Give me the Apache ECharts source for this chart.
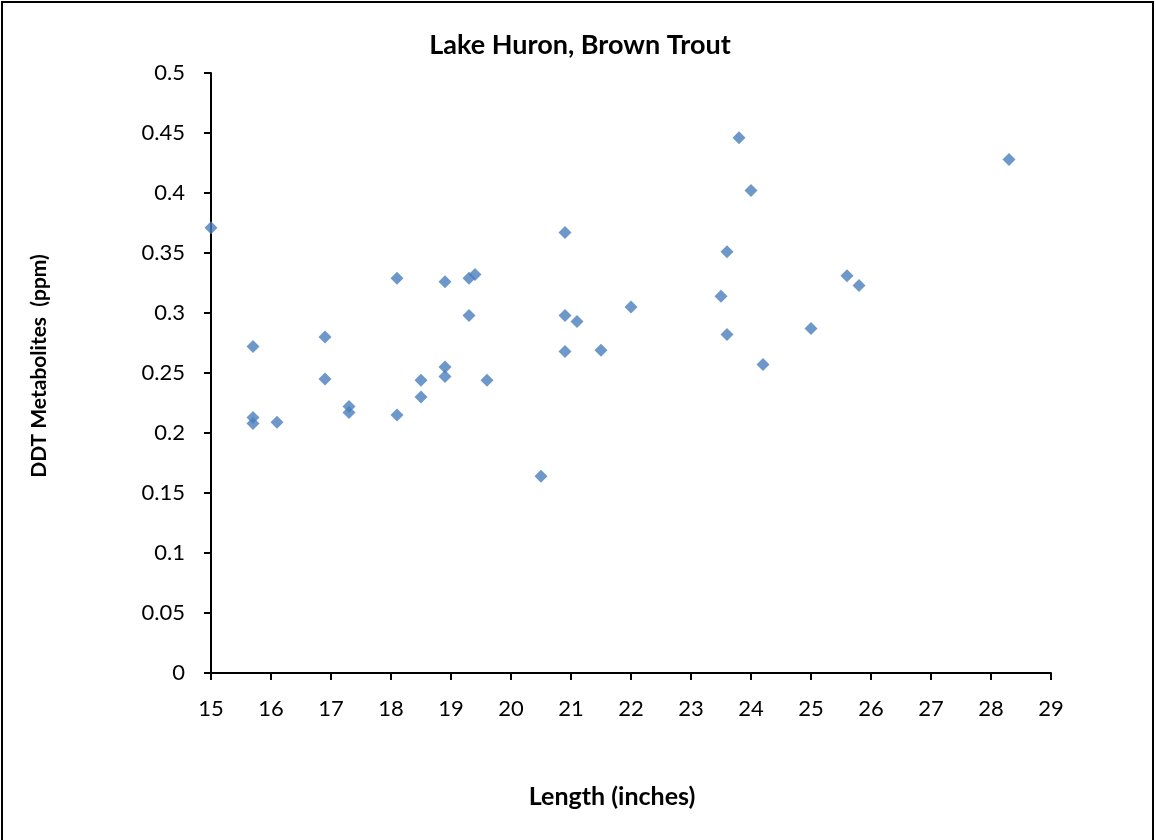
<!DOCTYPE html>
<html>
<head>
<meta charset="utf-8">
<script src="https://cdn.jsdelivr.net/npm/echarts@6/dist/echarts.min.js"></script>
<style>
  html, body { margin: 0; padding: 0; background: #fff; }
  #main { width: 1156px; height: 840px; }
</style>
</head>
<body>
<div id="main"></div>
<script>
// length of fish (inches) and DDT metabolites (ppm)
var lengths = [15.0, 15.7, 15.7, 15.7, 16.1, 16.9, 16.9, 17.3, 17.3, 18.1, 18.1, 18.5, 18.5,
  18.9, 18.9, 18.9, 19.3, 19.4, 19.3, 19.6, 20.5, 20.9, 20.9, 20.9, 21.1, 21.5, 22.0,
  23.5, 23.6, 23.6, 23.8, 24.0, 24.2, 25.0, 25.6, 25.8, 28.3]
var ddt = [0.371, 0.272, 0.213, 0.208, 0.209, 0.280, 0.245, 0.222, 0.217, 0.329, 0.215, 0.244, 0.230,
  0.326, 0.255, 0.247, 0.329, 0.332, 0.298, 0.244, 0.164, 0.367, 0.298, 0.268, 0.293, 0.269, 0.305,
  0.314, 0.351, 0.282, 0.446, 0.402, 0.257, 0.287, 0.331, 0.323, 0.428]

var titleText = 'Lake Huron, Brown Trout'
var xName = 'Length (inches)'
var yName = 'DDT Metabolites  (ppm)'

var points = lengths.map(function (x, i) { return [x, ddt[i]] })

var font = 'Lato, "Open Sans", sans-serif'
var chart = echarts.init(document.getElementById('main'))
chart.setOption({
  backgroundColor: '#fff',
  animation: false,
  grid: { left: 211, right: 105, top: 73, bottom: 167 },
  xAxis: {
    type: 'value',
    min: 15, max: 29, interval: 1,
    axisLine: { lineStyle: { color: '#000', width: 2 } },
    axisTick: { show: true, inside: false, length: 7, lineStyle: { color: '#000', width: 2 } },
    axisLabel: { color: '#000', fontSize: 22, fontFamily: font, margin: 25 },
    splitLine: { show: false }
  },
  yAxis: {
    type: 'value',
    min: 0, max: 0.5, interval: 0.05,
    axisLine: { show: true, lineStyle: { color: '#000', width: 2 } },
    axisTick: { show: true, inside: false, length: 7, lineStyle: { color: '#000', width: 2 } },
    axisLabel: { color: '#000', fontSize: 22, fontFamily: font, margin: 26 },
    splitLine: { show: false }
  },
  graphic: [
    { type: 'rect', shape: { x: 2, y: 2, width: 1151, height: 860 },
      style: { fill: 'none', stroke: '#000', lineWidth: 2 }, silent: true },
    { type: 'text', x: 580, y: 45,
      style: { text: titleText, font: 'bold 27px ' + font, fill: '#000', textAlign: 'center', textVerticalAlign: 'middle' } },
    { type: 'text', x: 612, y: 797,
      style: { text: xName, font: 'bold 25px ' + font, fill: '#000', textAlign: 'center', textVerticalAlign: 'middle' } },
    { type: 'text', x: 39, y: 366, rotation: Math.PI / 2,
      style: { text: yName, font: 'bold 21px ' + font, fill: '#000', textAlign: 'center', textVerticalAlign: 'middle' } }
  ],
  series: [{
    type: 'scatter',
    symbol: 'diamond',
    symbolSize: 13,
    itemStyle: { color: '#4a7ebb' },
    data: points
  }]
})
</script>
</body>
</html>
